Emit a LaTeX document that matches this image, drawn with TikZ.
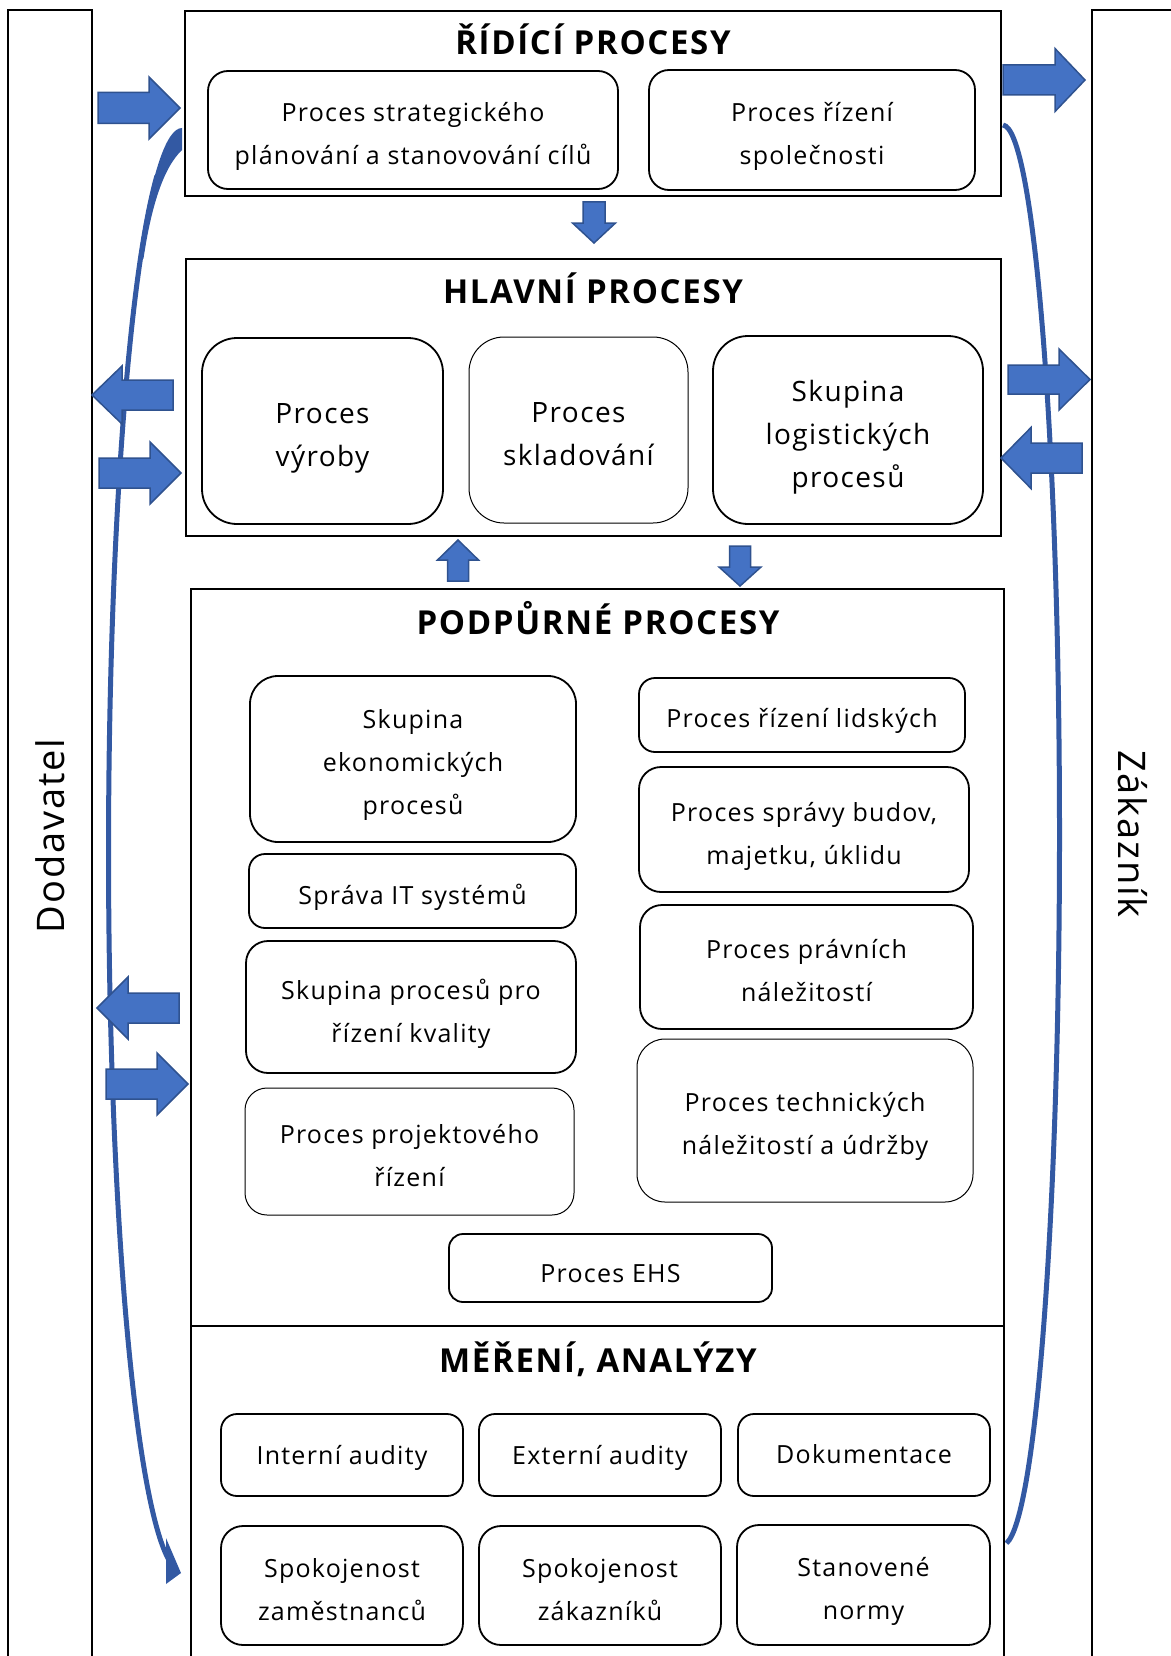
\documentclass[tikz,border=0pt]{standalone}
\usepackage{fontspec}
\setmainfont[LetterSpace=5]{Open Sans}

\definecolor{arrowfill}{HTML}{4472C4}
\definecolor{arrowedge}{HTML}{2F528F}
\definecolor{curveblue}{HTML}{3359A3}

% horizontal block arrow: shaft start x, head base x, tip x, centre y, half shaft, half head
\newcommand{\blockH}[6]{%
  \filldraw[blockarrow] (#1,#4-#5) -- (#2,#4-#5) -- (#2,#4-#6) -- (#3,#4)
    -- (#2,#4+#6) -- (#2,#4+#5) -- (#1,#4+#5) -- cycle;}
% vertical block arrow: shaft start y, head base y, tip y, centre x, half shaft, half head
\newcommand{\blockV}[6]{%
  \filldraw[blockarrow] (#4-#5,#1) -- (#4-#5,#2) -- (#4-#6,#2) -- (#4,#3)
    -- (#4+#6,#2) -- (#4+#5,#2) -- (#4+#5,#1) -- cycle;}

\begin{document}
\begin{tikzpicture}[x=1pt,y=-1pt,
  frame/.style={draw, line width=1.8pt, rectangle, inner sep=0pt, outer sep=0pt},
  sz/.style 2 args={minimum width=#1pt, minimum height=#2pt},
  proc/.style={draw, line width=1.8pt, rounded corners=22pt, inner sep=0pt, outer sep=0pt},
  procthin/.style={proc, line width=1pt},
  mainproc/.style={proc, rounded corners=35pt},
  ptext/.style={align=center, inner sep=0pt, font=\fontsize{25}{43}\selectfont},
  mtext/.style={ptext, font=\fontsize{28}{43}\selectfont},
  title/.style={font=\bfseries\fontsize{33}{40}\selectfont, anchor=base},
  sidelabel/.style={font=\fontsize{38}{44}\selectfont},
  blockarrow/.style={fill=arrowfill, draw=arrowedge, line width=1.5pt, line join=miter},
  curve/.style={draw=curveblue, line width=5pt}]
\useasboundingbox (0,0) rectangle (1170,1656);

% side columns: supplier and customer
\node[frame, sz={84}{1670}] (dod) at (50,845) {};
\node[frame, sz={100}{1672}] (zak) at (1142,846) {};
\node[sidelabel, rotate=90] (dodt) at (50,836) {Dodavatel};
\node[sidelabel, rotate=-90] (zakt) at (1133,834) {Zákazník};

% curved flows along both sides
\fill[curveblue] (182,128) arc[start angle=270, end angle=235, x radius=76, y radius=722]
  -- (143.5,258.6) .. controls (151,208) and (163,168) .. (182,150) -- cycle;
\draw[curve] (156.9,175.9) arc[start angle=250, end angle=100, x radius=73.5, y radius=719.5];
\fill[curveblue] (166,1538) -- (181,1573) -- (166,1584) -- cycle;
\draw[curve] (1003,125) arc[start angle=-89.5, end angle=86, x radius=57, y radius=710];

% management processes
\node[frame, sz={816}{185}] (ridici) at (593,103.5) {};
\node[title] (ridicit) at (593,55) {ŘÍDÍCÍ PROCESY};
\node[proc, sz={410}{118}, rounded corners=20pt] (s1) at (413,130) {};
\node[ptext] (s1t) at ([yshift=-6.4pt]s1.center) {Proces strategického\\plánování a stanovování cílů};
\node[proc, sz={326}{120}, rounded corners=20pt] (s2) at (812,130) {};
\node[ptext] (s2t) at ([yshift=-6.4pt]s2.center) {Proces řízení\\společnosti};

% main processes
\node[frame, sz={815}{277}] (hlavni) at (593.5,397.5) {};
\node[title] (hlavnit) at (593,303) {HLAVNÍ PROCESY};
\node[mainproc, sz={241}{186}] (h1) at (322.5,431) {};
\node[mtext] (h1t) at ([yshift=-7.4pt]h1.center) {Proces\\výroby};
\node[mainproc, sz={219}{186}, line width=1pt] (h2) at (578.5,430) {};
\node[mtext] (h2t) at ([yshift=-4.2pt]h2.center) {Proces\\skladování};
\node[mainproc, sz={270}{188}] (h3) at (848,430) {};
\node[mtext] (h3t) at ([yshift=-7.4pt]h3.center) {Skupina\\logistických\\procesů};

% support processes
\node[frame, sz={813}{737}] (podpurne) at (597.5,957.5) {};
\node[title] (podpurnet) at (598,634) {PODPŮRNÉ PROCESY};
\node[proc, sz={326}{166}, rounded corners=28pt] (p1) at (413,759) {};
\node[ptext] (p1t) at ([yshift=-6.4pt]p1.center) {Skupina\\ekonomických\\procesů};
\node[proc, sz={327}{74}, rounded corners=16pt] (p2) at (412.5,891) {};
\node[ptext] (p2t) at ([yshift=-6.4pt]p2.center) {Správa IT systémů};
\node[proc, sz={330}{132}] (p3) at (411,1007) {};
\node[ptext] (p3t) at ([yshift=-6.4pt]p3.center) {Skupina procesů pro\\řízení kvality};
\node[procthin, sz={329}{127}] (p4) at (409.5,1151.5) {};
\node[ptext] (p4t) at ([yshift=-3.6pt]p4.center) {Proces projektového\\řízení};
\node[proc, sz={326}{74}, rounded corners=16pt] (p5) at (802,715) {};
\node[ptext] (p5t) at ([yshift=-6.4pt]p5.center) {Proces řízení lidských};
\node[proc, sz={330}{125}] (p6) at (804,829.5) {};
\node[ptext] (p6t) at ([yshift=-7.2pt]p6.center) {Proces správy budov,\\majetku, úklidu};
\node[proc, sz={333}{124}] (p7) at (806.5,967) {};
\node[ptext] (p7t) at ([yshift=-3.4pt]p7.center) {Proces právních\\náležitostí};
\node[procthin, sz={336}{163}, rounded corners=28pt] (p8) at (805,1120.5) {};
\node[ptext] (p8t) at ([yshift=-6.2pt]p8.center) {Proces technických\\náležitostí a údržby};
\node[proc, sz={323}{68}, rounded corners=14pt] (p9) at (610.5,1268) {};
\node[ptext] (p9t) at ([yshift=-5.3pt]p9.center) {Proces EHS};

% measurement and analysis
\node[frame, sz={813}{354}] (mereni) at (597.5,1503) {};
\node[title] (merenit) at (598,1372) {MĚŘENÍ, ANALÝZY};
\node[proc, sz={242}{82}, rounded corners=16pt] (m1) at (342,1455) {};
\node[ptext] (m1t) at ([yshift=-3.2pt]m1.center) {Interní audity};
\node[proc, sz={242}{82}, rounded corners=16pt] (m2) at (600,1455) {};
\node[ptext] (m2t) at ([yshift=-3.2pt]m2.center) {Externí audity};
\node[proc, sz={252}{82}, rounded corners=16pt] (m3) at (864,1455) {};
\node[ptext] (m3t) at ([yshift=1pt]m3.center) {Dokumentace};
\node[proc, sz={242}{119}] (m4) at (342,1585.5) {};
\node[ptext] (m4t) at ([yshift=-4.2pt]m4.center) {Spokojenost\\zaměstnanců};
\node[proc, sz={242}{119}] (m5) at (600,1585.5) {};
\node[ptext] (m5t) at ([yshift=-4.2pt]m5.center) {Spokojenost\\zákazníků};
\node[proc, sz={253}{120}] (m6) at (863.5,1585) {};
\node[ptext] (m6t) at ([yshift=-6.4pt]m6.center) {Stanovené\\normy};

% block arrows between the areas
\blockH{98}{149}{180}{108}{15.5}{31}
\blockH{1003}{1055}{1085}{80}{15}{31.5}
\blockV{202}{223}{243}{594}{11}{21.5}
\blockV{581}{560}{540}{458}{10.5}{20.5}
\blockV{546}{567}{586}{740}{10.5}{21}
\blockH{173}{122}{92}{395}{15}{29}
\blockH{99}{150}{181}{473}{15}{31}
\blockH{1008}{1059}{1090}{379.5}{14.5}{30.5}
\blockH{1082}{1031}{1001}{458}{15}{30.5}
\blockH{179}{128}{97}{1008}{15}{31}
\blockH{106}{157}{188}{1084}{15}{31}
\end{tikzpicture}
\end{document}
